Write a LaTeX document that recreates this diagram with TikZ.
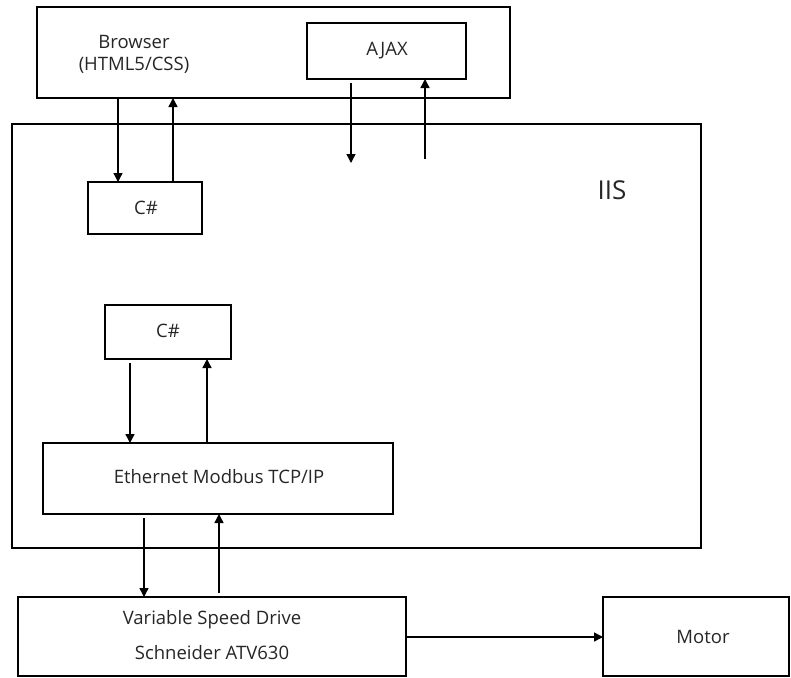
\documentclass[tikz,border=0pt]{standalone}
\usepackage{fontspec}
\setmainfont{Open Sans}
\usetikzlibrary{arrows.meta}
\begin{document}
\begin{tikzpicture}[x=1pt,y=-1pt,
  box/.style={draw,line width=2.7pt,inner sep=0pt,outer sep=0pt,anchor=north west},
  frame/.style={draw,line width=1.4pt,inner sep=0pt,outer sep=0pt,anchor=north west},
  lbl/.style={inner sep=0pt,font=\fontsize{18.5}{33}\selectfont,text=black!85,align=center},
  arr/.style={line width=1.4pt,-{Triangle[length=9pt,width=9pt]}}]
\useasboundingbox (0,0) rectangle (791,677);

% server frame
\node[frame,minimum width=689pt,minimum height=424pt] (iis) at (12,124) {};
\node[lbl,font=\fontsize{26}{30}\selectfont] (iislbl) at (612,190) {IIS};

% client side
\node[box,minimum width=473pt,minimum height=91pt] (browser) at (37,7) {};
\node[lbl] (browserlbl) at (134,54) {Browser\\[-11pt](HTML5/CSS)};
\node[box,minimum width=159pt,minimum height=56pt] (ajax) at (307,23) {};
\node[lbl] (ajaxlbl) at (387,51) {AJAX};

% server components
\node[box,minimum width=114pt,minimum height=52pt] (cs1) at (88,182) {};
\node[lbl] (cs1lbl) at (146,208) {C\#};
\node[box,minimum width=126pt,minimum height=54pt] (cs2) at (105,305) {};
\node[lbl] (cs2lbl) at (168,331) {C\#};
\node[box,minimum width=350pt,minimum height=71pt] (eth) at (43,443) {};
\node[lbl] (ethlbl) at (219,477) {Ethernet Modbus TCP/IP};

% drive and motor
\node[box,minimum width=388pt,minimum height=79pt] (vsd) at (18,597) {};
\node[lbl] (vsdlbl1) at (212,620) {Variable Speed Drive};
\node[lbl] (vsdlbl2) at (212,653) {Schneider ATV630};
\node[box,minimum width=186pt,minimum height=79pt] (motor) at (603,597) {};
\node[lbl] (motorlbl) at (703,637) {Motor};

% arrow columns
\coordinate (xa) at (118,0);
\coordinate (xb) at (173,0);
\coordinate (xc) at (351,0);
\coordinate (xd) at (425,0);
\coordinate (xe) at (130,0);
\coordinate (xf) at (207,0);
\coordinate (xg) at (144,0);
\coordinate (xh) at (219,0);
\coordinate (ajaxdown) at (351,163);
\coordinate (ajaxup) at (425,159);

% browser <-> C#
\draw[arr] (browser.south -| xa) -- (cs1.north -| xa);
\draw[arr] (cs1.north -| xb) -- (browser.south -| xb);
% AJAX requests
\draw[arr] ([yshift=-4pt]ajax.south -| xc) -- (ajaxdown);
\draw[arr] (ajaxup) -- (ajax.south -| xd);
% C# <-> Modbus
\draw[arr] ([yshift=-4pt]cs2.south -| xe) -- (eth.north -| xe);
\draw[arr] (eth.north -| xf) -- (cs2.south -| xf);
% Modbus <-> drive
\draw[arr] ([yshift=-4pt]eth.south -| xg) -- (vsd.north -| xg);
\draw[arr] ([yshift=4pt]vsd.north -| xh) -- (eth.south -| xh);
% drive -> motor
\draw[arr] (vsd.east |- motorlbl) -- (motor.west |- motorlbl);
\end{tikzpicture}
\end{document}
